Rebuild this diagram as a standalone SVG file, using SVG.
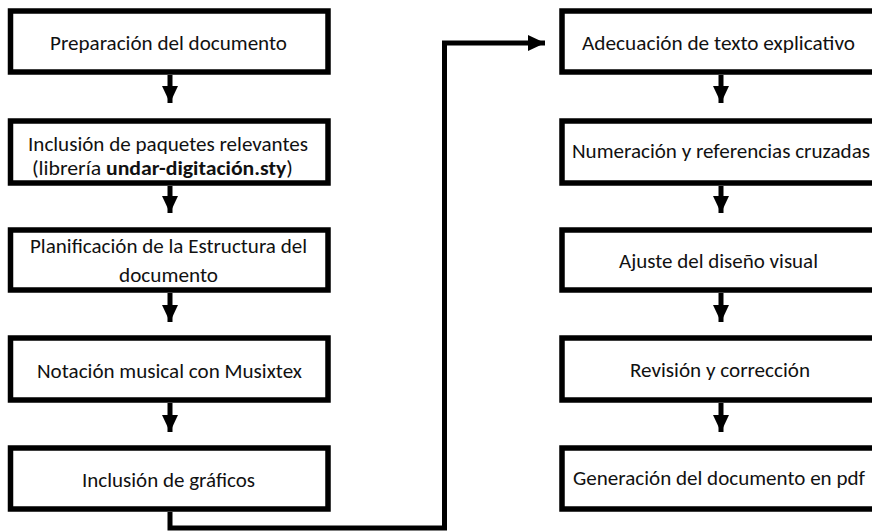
<svg xmlns="http://www.w3.org/2000/svg" width="872" height="532" viewBox="0 0 872 532">
<style>
.box{fill:#fff;stroke:#000;stroke-width:5.5}
.lbl{font-family:Carlito,Calibri,Lato,"Liberation Sans",sans-serif;font-size:20px;fill:#111}
.edge{fill:none;stroke:#000;stroke-width:5}
</style>
<defs>
<marker id="ah" markerUnits="userSpaceOnUse" markerWidth="18" markerHeight="16" refX="17" refY="8" orient="auto">
<path d="M0,0 L17,8 L0,16 z" fill="#000"/>
</marker>
</defs>
<rect width="872" height="532" fill="#fff"/>
<g id="connectors">
<path class="edge" d="M170,75 V103" marker-end="url(#ah)"/>
<path class="edge" d="M170,186 V213" marker-end="url(#ah)"/>
<path class="edge" d="M170,293 V322" marker-end="url(#ah)"/>
<path class="edge" d="M170,403 V432" marker-end="url(#ah)"/>
<path class="edge" d="M170,512 V528 H444.5 V43 H545" marker-end="url(#ah)"/>
<path class="edge" d="M721,75 V103" marker-end="url(#ah)"/>
<path class="edge" d="M721,186 V213" marker-end="url(#ah)"/>
<path class="edge" d="M721,293 V322" marker-end="url(#ah)"/>
<path class="edge" d="M721,403 V432" marker-end="url(#ah)"/>
</g>
<g id="n1"><rect class="box" x="10.5" y="11" width="317.5" height="61"/><text class="lbl" x="50" y="50" textLength="237" lengthAdjust="spacingAndGlyphs">Preparación del documento</text></g>
<g id="n2"><rect class="box" x="10.5" y="121" width="317.5" height="62"/><text class="lbl" x="28" y="151" textLength="280" lengthAdjust="spacingAndGlyphs">Inclusión de paquetes relevantes</text><text class="lbl" x="32" y="175" textLength="261" lengthAdjust="spacingAndGlyphs">(librería <tspan font-weight="bold">undar-digitación.sty</tspan>)</text></g>
<g id="n3"><rect class="box" x="10.5" y="230" width="317.5" height="60"/><text class="lbl" x="30" y="253" textLength="277" lengthAdjust="spacingAndGlyphs">Planificación de la Estructura del</text><text class="lbl" x="119" y="281.5" textLength="99" lengthAdjust="spacingAndGlyphs">documento</text></g>
<g id="n4"><rect class="box" x="10.5" y="338" width="317.5" height="62"/><text class="lbl" x="37" y="378" textLength="265" lengthAdjust="spacingAndGlyphs">Notación musical con Musixtex</text></g>
<g id="n5"><rect class="box" x="10.5" y="448" width="317.5" height="61"/><text class="lbl" x="82" y="486.5" textLength="173" lengthAdjust="spacingAndGlyphs">Inclusión de gráficos</text></g>
<g id="n6"><rect class="box" x="562" y="11" width="320" height="61"/><text class="lbl" x="582" y="50" textLength="273" lengthAdjust="spacingAndGlyphs">Adecuación de texto explicativo</text></g>
<g id="n7"><rect class="box" x="562" y="121" width="320" height="62"/><text class="lbl" x="572" y="158" textLength="298" lengthAdjust="spacingAndGlyphs">Numeración y referencias cruzadas</text></g>
<g id="n8"><rect class="box" x="562" y="230" width="320" height="60"/><text class="lbl" x="619" y="268" textLength="199" lengthAdjust="spacingAndGlyphs">Ajuste del diseño visual</text></g>
<g id="n9"><rect class="box" x="562" y="338" width="320" height="62"/><text class="lbl" x="630" y="376.5" textLength="180" lengthAdjust="spacingAndGlyphs">Revisión y corrección</text></g>
<g id="n10"><rect class="box" x="562" y="448" width="320" height="61"/><text class="lbl" x="573" y="485" textLength="292" lengthAdjust="spacingAndGlyphs">Generación del documento en pdf</text></g>
</svg>
